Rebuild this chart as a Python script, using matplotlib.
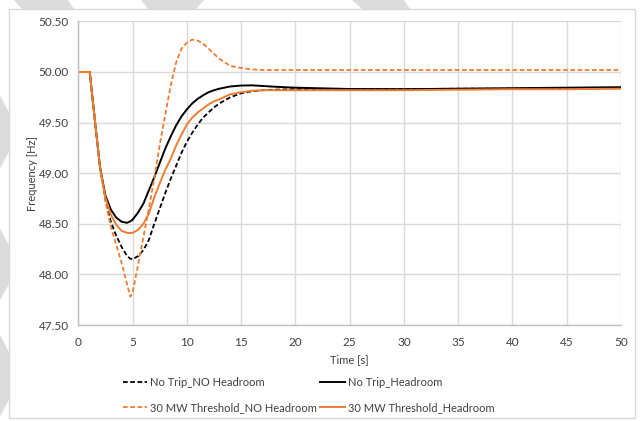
import matplotlib
matplotlib.use("Agg")
import matplotlib.pyplot as plt
from matplotlib.lines import Line2D
from matplotlib.patches import Rectangle, Polygon

plt.rcParams['font.family'] = ['Lato', 'DejaVu Sans']

# frequency response after the event at t = 1 s
time_s = [0, 1.05, 1.5, 2.0, 2.5, 3.0, 3.5, 4.0, 4.5, 4.8, 5.0, 5.5, 6.0, 6.5,
          7.0, 7.5, 8.0, 8.5, 9.0, 9.5, 10.0, 10.5, 11.0, 11.5, 12.0, 12.5,
          13.0, 14.0, 15.0, 16.0, 17.0, 18.0, 20.0, 25.0, 30.0, 35.0, 40.0,
          45.0, 50.0]

no_trip_no_headroom = [50.00, 50.00, 49.55, 49.06, 48.74, 48.52, 48.38, 48.27,
                       48.18, 48.155, 48.15, 48.18, 48.24, 48.34, 48.50, 48.65,
                       48.80, 48.94, 49.07, 49.20, 49.31, 49.40, 49.48, 49.55,
                       49.60, 49.65, 49.69, 49.75, 49.79, 49.81, 49.82, 49.825,
                       49.83, 49.83, 49.83, 49.835, 49.835, 49.84, 49.84]

no_trip_headroom = [50.00, 50.00, 49.55, 49.06, 48.78, 48.64, 48.56, 48.52,
                    48.51, 48.525, 48.54, 48.61, 48.70, 48.83, 48.96, 49.10,
                    49.24, 49.36, 49.47, 49.56, 49.63, 49.69, 49.735, 49.77,
                    49.80, 49.82, 49.835, 49.857, 49.866, 49.868, 49.862, 49.855,
                    49.845, 49.832, 49.83, 49.835, 49.84, 49.845, 49.85]

thr30_no_headroom = [50.00, 50.00, 49.55, 49.06, 48.72, 48.47, 48.29, 48.11,
                     47.90, 47.78, 47.82, 48.09, 48.37, 48.65, 48.95, 49.28,
                     49.57, 49.86, 50.09, 50.23, 50.29, 50.32, 50.31, 50.28,
                     50.23, 50.18, 50.13, 50.06, 50.04, 50.025, 50.02, 50.02,
                     50.02, 50.02, 50.02, 50.02, 50.02, 50.02, 50.02]

thr30_headroom = [50.00, 50.00, 49.55, 49.06, 48.76, 48.59, 48.49, 48.43,
                  48.41, 48.41, 48.41, 48.44, 48.50, 48.60, 48.76, 48.90,
                  49.03, 49.14, 49.27, 49.38, 49.48, 49.55, 49.60, 49.64,
                  49.68, 49.71, 49.73, 49.78, 49.80, 49.815, 49.82, 49.82,
                  49.82, 49.82, 49.82, 49.825, 49.83, 49.83, 49.835]

labels = ['No Trip_NO Headroom', 'No Trip_Headroom',
          '30 MW Threshold_NO Headroom', '30 MW Threshold_Headroom']

x_ticks = [0, 5, 10, 15, 20, 25, 30, 35, 40, 45, 50]
y_ticks = [47.5, 48.0, 48.5, 49.0, 49.5, 50.0, 50.5]

orange = '#ED7D31'
grid_col = '#D9D9D9'
text_col = '#404040'
dash = (0, (2.6, 1.4))

W, H = 641, 421
fig = plt.figure(figsize=(W / 100, H / 100), dpi=100)

# light grey background stripes around the chart box
stripes = [[(14, 0), (68, 0), (74, 9), (22, 9)],
           [(141, 0), (204, 0), (196, 9), (148, 9)],
           [(352, 0), (404, 0), (410, 9), (362, 9)],
           [(0, 96), (9, 112), (9, 152), (0, 168)],
           [(0, 228), (9, 246), (9, 284), (0, 300)],
           [(0, 335), (9, 352), (9, 400), (0, 416)]]
for pts in stripes:
    fig.patches.append(Polygon([(x / W, 1 - y / H) for x, y in pts], closed=True,
                               transform=fig.transFigure, facecolor='#DCDCDC',
                               edgecolor='none', zorder=-2))

# chart area border
fig.patches.append(Rectangle((9 / W, 1 - 418 / H), 626 / W, 409 / H,
                             transform=fig.transFigure, facecolor='white',
                             edgecolor=grid_col, lw=1.0, zorder=-1))

ax = fig.add_axes([78.3 / W, 1 - 325 / H, (621 - 78.3) / W, (325 - 21.4) / H])
ax.patch.set_alpha(0)

l1, = ax.plot(time_s, no_trip_no_headroom, color='black', lw=1.3, ls=dash)
l2, = ax.plot(time_s, no_trip_headroom, color='black', lw=1.4)
l3, = ax.plot(time_s, thr30_no_headroom, color=orange, lw=1.3, ls=dash)
l4, = ax.plot(time_s, thr30_headroom, color=orange, lw=1.4)

ax.set_xlim(0, 50)
ax.set_ylim(47.5, 50.5)
ax.set_xticks(x_ticks)
ax.set_yticks(y_ticks)
ax.set_yticklabels(['%.2f' % v for v in y_ticks])
ax.grid(True, color=grid_col, lw=1.0)
ax.set_axisbelow(True)
ax.tick_params(length=0, labelsize=8.5, colors=text_col)
ax.tick_params(axis='y', pad=7)
ax.tick_params(axis='x', pad=9)
for side in ['top', 'right']:
    ax.spines[side].set_visible(False)
for side in ['left', 'bottom']:
    ax.spines[side].set_color('#BFBFBF')
    ax.spines[side].set_linewidth(1.0)

ax.set_xlabel('Time [s]', fontsize=8, color=text_col, labelpad=4)
ax.set_ylabel('Frequency [Hz]', fontsize=8, color=text_col, labelpad=0)

# legend, filled column by column
fig.legend([l1, l3, l2, l4], [labels[0], labels[2], labels[1], labels[3]],
           ncol=2, frameon=False, fontsize=8, handlelength=2.2,
           handletextpad=0.25, columnspacing=0.3, labelspacing=1.3,
           borderpad=0, borderaxespad=0, labelcolor=text_col,
           loc='center left', bbox_to_anchor=(123 / W, 1 - 395 / H))

fig.savefig('out.png', dpi=100)
